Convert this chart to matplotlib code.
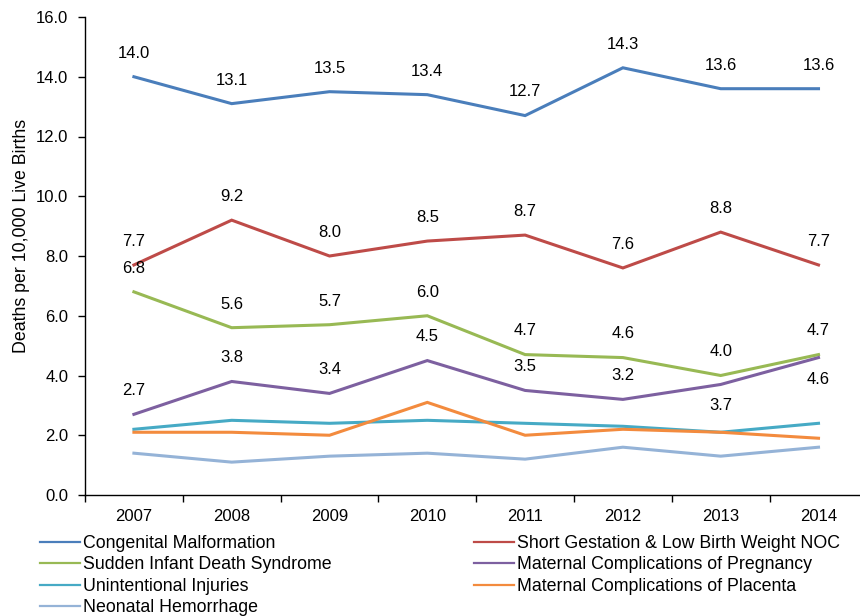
import matplotlib
matplotlib.use('Agg')
import matplotlib.pyplot as plt
from matplotlib.lines import Line2D
from matplotlib.ticker import FixedLocator, FormatStrFormatter

years = ['2007', '2008', '2009', '2010', '2011', '2012', '2013', '2014']

congenital = [14.0, 13.1, 13.5, 13.4, 12.7, 14.3, 13.6, 13.6]
short_gestation = [7.7, 9.2, 8.0, 8.5, 8.7, 7.6, 8.8, 7.7]
sids = [6.8, 5.6, 5.7, 6.0, 4.7, 4.6, 4.0, 4.7]
mat_pregnancy = [2.7, 3.8, 3.4, 4.5, 3.5, 3.2, 3.7, 4.6]
injuries = [2.2, 2.5, 2.4, 2.5, 2.4, 2.3, 2.1, 2.4]
mat_placenta = [2.1, 2.1, 2.0, 3.1, 2.0, 2.2, 2.1, 1.9]
hemorrhage = [1.4, 1.1, 1.3, 1.4, 1.2, 1.6, 1.3, 1.6]

names = ['Congenital Malformation',
         'Short Gestation & Low Birth Weight NOC',
         'Sudden Infant Death Syndrome',
         'Maternal Complications of Pregnancy',
         'Unintentional Injuries',
         'Maternal Complications of Placenta',
         'Neonatal Hemorrhage']
series = [congenital, short_gestation, sids, mat_pregnancy,
          injuries, mat_placenta, hemorrhage]
colors = ['#4A7EBB', '#BE4B48', '#98B954', '#7D60A0',
          '#46AAC5', '#F38B3E', '#95B3D7']
labelled = [True, True, True, True, False, False, False]
# points whose value label sits under the line
below = {3: [6, 7]}

plt.rcParams['font.family'] = ['Liberation Sans', 'DejaVu Sans']
plt.rcParams['font.size'] = 12

fig = plt.figure(figsize=(8.6, 6.16), dpi=100)
ax = fig.add_axes([85 / 860., 121 / 616., 782.4 / 860., 478 / 616.])

x = list(range(len(years)))
for i, (vals, name, c) in enumerate(zip(series, names, colors)):
    ax.plot(x, vals, color=c, lw=2.2, label=name,
            solid_joinstyle='miter', clip_on=False)
    if labelled[i]:
        for j, v in enumerate(vals):
            dy = -15.5 if j in below.get(i, []) else 17
            ax.annotate('%.1f' % v, (j, v), xytext=(0, dy),
                        textcoords='offset points', ha='center',
                        va='center', fontsize=12)

ax.set_xlim(-0.5, len(years) - 0.5)
ax.set_ylim(0, 16)
ax.yaxis.set_major_locator(FixedLocator(range(0, 17, 2)))
ax.yaxis.set_major_formatter(FormatStrFormatter('%.1f'))
ax.set_xticks(x)
ax.set_xticklabels(years)
ax.xaxis.set_minor_locator(FixedLocator([k - 0.5 for k in range(len(years) + 1)]))
ax.tick_params(axis='x', which='major', length=0, pad=10)
ax.tick_params(axis='x', which='minor', length=5, width=1)
ax.tick_params(axis='y', length=5, width=1, pad=7)
for s in ['top', 'right']:
    ax.spines[s].set_visible(False)
for s in ['left', 'bottom']:
    ax.spines[s].set_linewidth(1)

ax.set_ylabel('Deaths per 10,000 Live Births', fontsize=12.8)
ax.yaxis.set_label_coords(-0.07, 0.542)

order = [0, 2, 4, 6, 1, 3, 5]
leg_handles = [Line2D([], [], color=colors[k], lw=1.6) for k in order]
fig.legend(leg_handles, [names[k] for k in order],
           loc='upper left', bbox_to_anchor=(40 / 860., 1 - 535 / 616.),
           ncol=2, frameon=False, handlelength=2.25, handletextpad=0.17,
           columnspacing=8.0, labelspacing=0.25, borderpad=0,
           borderaxespad=0, fontsize=12.8)

fig.savefig('out.png', dpi=100)
